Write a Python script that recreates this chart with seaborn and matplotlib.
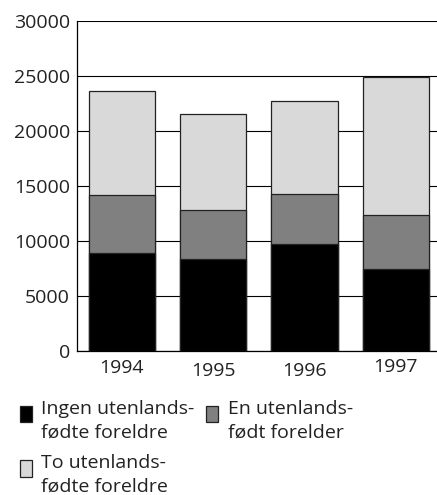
import matplotlib
matplotlib.use("Agg")
import matplotlib.pyplot as plt
import matplotlib.transforms as mtransforms
from matplotlib.patches import Patch, Rectangle
from matplotlib.legend_handler import HandlerPatch
import pandas as pd
import seaborn as sns

# Data
years = ["1994", "1995", "1996", "1997"]
ingen = [8900, 8400, 9700, 7500]      # Ingen utenlandsfødte foreldre
en = [5300, 4400, 4600, 4900]         # En utenlandsfødt forelder
to = [9400, 8700, 8400, 12500]        # To utenlandsfødte foreldre
labels = ["Ingen utenlands-\nfødte foreldre",
          "En utenlands-\nfødt forelder",
          "To utenlands-\nfødte foreldre"]
colors = ["#000000", "#808080", "#d9d9d9"]

sns.set_style("white")
plt.rcParams["font.family"] = ["Open Sans", "DejaVu Sans"]

df = pd.DataFrame({"year": years, "ingen": ingen, "en": en, "to": to})
df["cum_en"] = df["ingen"] + df["en"]
df["cum_to"] = df["cum_en"] + df["to"]

fig = plt.figure(figsize=(4.37, 4.95), dpi=100)
ax = fig.add_axes([77 / 437, 144 / 495, 1 - 77 / 437, 330 / 495])

# stacked bars: draw cumulative totals from top down
for col, color in zip(["cum_to", "cum_en", "ingen"], colors[::-1]):
    sns.barplot(data=df, x="year", y=col, color=color, width=0.725,
                edgecolor="#222222", linewidth=0.9, saturation=1, ax=ax)

ax.set_ylim(0, 30000)
ax.set_xlim(-0.49, 3.45)
ax.set_yticks(range(0, 30001, 5000))
ax.set_xlabel("")
ax.set_ylabel("")
ax.set_axisbelow(True)
ax.yaxis.grid(True, color="black", linewidth=0.8)
ax.xaxis.grid(False)

for side in ["top", "right"]:
    ax.spines[side].set_visible(False)
for side in ["left", "bottom"]:
    ax.spines[side].set_color("black")
    ax.spines[side].set_linewidth(0.9)

ax.tick_params(axis="y", length=0, pad=5, labelsize=14, labelcolor="#222222")
ax.tick_params(axis="x", length=0, pad=6, labelsize=14, labelcolor="#222222")

# slight vertical stagger of the year labels, as in the original
offsets = [0, -3, -3, 1]
for lab, dy in zip(ax.get_xticklabels(), offsets):
    lab.set_transform(lab.get_transform() +
                      mtransforms.ScaledTranslation(0, dy / 100, fig.dpi_scale_trans))


def raised_patch(legend, orig_handle, xdescent, ydescent, width, height, fontsize):
    # legend swatch sits a little above the centre of the two-line label
    return Rectangle((-xdescent, -ydescent + 5), width, height)


handles = [Patch(facecolor=c, edgecolor="#222222", linewidth=0.9) for c in colors]
order = [0, 2, 1]
leg = fig.legend([handles[i] for i in order], [labels[i] for i in order],
                 loc="upper left", bbox_to_anchor=(20 / 437, 1 - 400 / 495),
                 ncol=2, frameon=False, fontsize=14, borderpad=0, borderaxespad=0,
                 handlelength=0.6, handleheight=0.95, handletextpad=0.5,
                 columnspacing=0.6, labelspacing=0.66, labelcolor="#222222",
                 handler_map={Patch: HandlerPatch(patch_func=raised_patch)})
for t in leg.get_texts():
    t.set_linespacing(1.38)

fig.savefig("out.png", dpi=100)
